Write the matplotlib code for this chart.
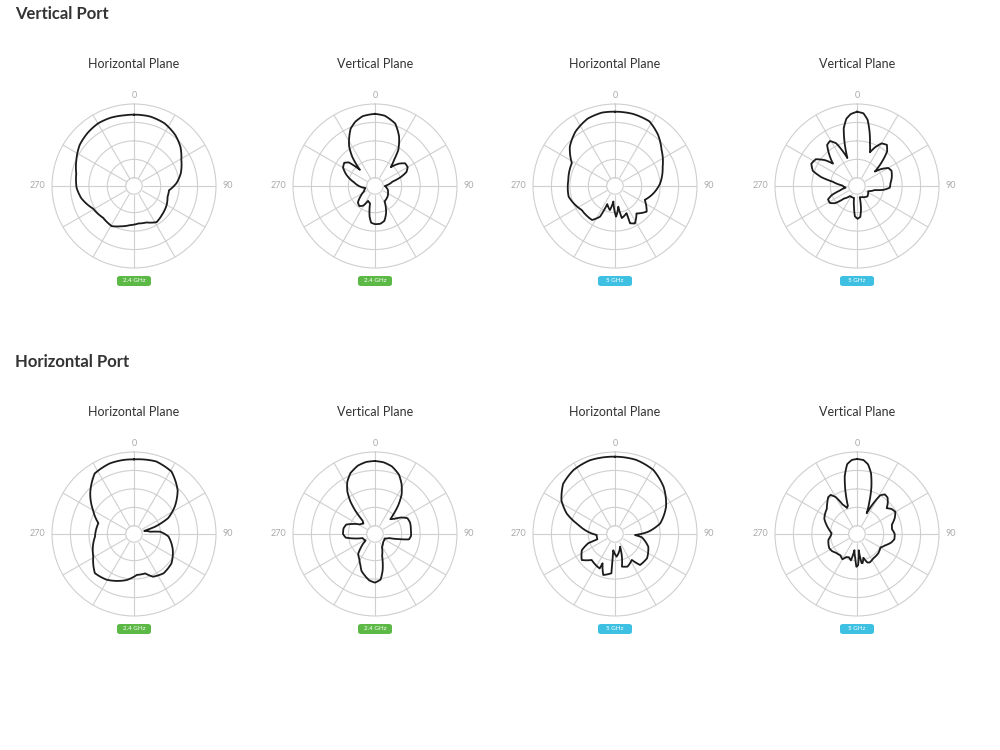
import numpy as np
import matplotlib.pyplot as plt
from matplotlib.patches import FancyBboxPatch

plt.rcParams['font.family'] = ['Lato', 'DejaVu Sans']

# textos
secoes = ['Vertical Port', 'Horizontal Port']
titulos = ['Horizontal Plane', 'Vertical Plane', 'Horizontal Plane', 'Vertical Plane']
bandas = ['2.4 GHz', '2.4 GHz', '5 GHz', '5 GHz']
cores_banda = {'2.4 GHz': '#5cb946', '5 GHz': '#3ec0e3'}
rotulos_angulo = {0: '0', 90: '90', 270: '270'}

# Vertical Port - padroes (angulo em graus, raio relativo)
vp_h24_ang = [0, 13, 26, 39, 50, 61, 75, 86, 97, 108, 120, 136, 148, 161, 173, 186, 199, 209, 224, 241, 257, 268, 282, 294, 307, 319, 330, 341, 352]
vp_h24_r = [0.87, 0.87, 0.85, 0.80, 0.74, 0.66, 0.59, 0.52, 0.43, 0.43, 0.46, 0.49, 0.52, 0.47, 0.46, 0.48, 0.52, 0.56, 0.54, 0.57, 0.66, 0.70, 0.72, 0.77, 0.83, 0.86, 0.88, 0.88, 0.87]

vp_v24_ang = [0, 8, 18, 26, 33, 36, 40, 47, 53, 60, 66, 71, 76, 90, 105, 130, 148, 158, 165, 172, 180, 186, 190, 196, 205, 211, 218, 226, 234, 244, 258, 280, 292, 300, 307, 312, 315, 317, 322, 327, 332, 337, 343, 350]
vp_v24_r = [0.88, 0.865, 0.80, 0.67, 0.52, 0.40, 0.30, 0.40, 0.46, 0.46, 0.42, 0.33, 0.22, 0.12, 0.16, 0.20, 0.22, 0.36, 0.44, 0.465, 0.465, 0.45, 0.38, 0.22, 0.20, 0.28, 0.31, 0.29, 0.22, 0.15, 0.12, 0.26, 0.38, 0.45, 0.47, 0.43, 0.33, 0.27, 0.45, 0.58, 0.67, 0.76, 0.82, 0.865]

vp_h5_ang = [0, 14, 28, 40, 52, 68, 87, 101, 115, 129, 142, 152, 158, 157, 168, 171, 178, 186, 192, 203, 206, 214, 234, 257, 277, 298, 311, 324, 338, 350]
vp_h5_r = [0.906, 0.906, 0.893, 0.816, 0.72, 0.627, 0.55, 0.476, 0.40, 0.497, 0.425, 0.517, 0.49, 0.36, 0.40, 0.255, 0.374, 0.19, 0.30, 0.24, 0.416, 0.50, 0.50, 0.58, 0.574, 0.596, 0.73, 0.82, 0.887, 0.909]

vp_v5_ang = [0, 5, 9, 13, 17, 21, 25, 30, 36, 41, 46, 51, 55, 60, 66, 75, 85, 93, 98, 103, 115, 135, 155, 166, 170, 174, 179, 184, 188, 194, 215, 226, 232, 238, 245, 250, 255, 262, 272, 280, 284, 289, 296, 303, 309, 313, 318, 324, 329, 334, 338, 341, 344, 347, 351, 355]
vp_v5_r = [0.906, 0.89, 0.82, 0.68, 0.54, 0.44, 0.52, 0.60, 0.62, 0.56, 0.42, 0.28, 0.36, 0.44, 0.46, 0.44, 0.41, 0.40, 0.33, 0.22, 0.15, 0.18, 0.15, 0.14, 0.28, 0.38, 0.40, 0.37, 0.26, 0.15, 0.15, 0.22, 0.34, 0.39, 0.39, 0.33, 0.22, 0.14, 0.18, 0.30, 0.45, 0.57, 0.62, 0.60, 0.50, 0.40, 0.50, 0.62, 0.64, 0.58, 0.45, 0.36, 0.55, 0.72, 0.83, 0.88]

# Horizontal Port
hp_h24_ang = [0, 17, 31, 45, 56, 65, 71, 73, 82, 85, 94, 112, 128, 143, 156, 164, 176, 189, 211, 225, 241, 266, 287, 300, 313, 327, 341, 352]
hp_h24_r = [0.91, 0.925, 0.888, 0.753, 0.60, 0.46, 0.27, 0.13, 0.20, 0.32, 0.42, 0.51, 0.58, 0.60, 0.57, 0.50, 0.50, 0.568, 0.65, 0.675, 0.568, 0.477, 0.454, 0.576, 0.73, 0.88, 0.91, 0.912]

hp_v24_ang = [0, 7, 14, 22, 28, 34, 39, 43, 46, 52, 58, 64, 72, 84, 93, 99, 102, 106, 115, 135, 152, 162, 168, 173, 180, 187, 194, 200, 205, 212, 220, 226, 235, 252, 258, 263, 270, 280, 288, 294, 302, 312, 317, 320, 323, 327, 332, 338, 346, 353]
hp_v24_r = [0.89, 0.88, 0.85, 0.78, 0.69, 0.58, 0.45, 0.33, 0.26, 0.30, 0.38, 0.44, 0.45, 0.44, 0.44, 0.42, 0.30, 0.18, 0.13, 0.14, 0.18, 0.28, 0.45, 0.56, 0.593, 0.57, 0.52, 0.48, 0.42, 0.36, 0.32, 0.24, 0.14, 0.16, 0.26, 0.36, 0.39, 0.39, 0.37, 0.30, 0.22, 0.19, 0.22, 0.38, 0.50, 0.62, 0.72, 0.80, 0.86, 0.885]

hp_h5_ang = [0, 16, 31, 46, 62, 77, 86, 93, 97, 111, 127, 141, 147, 159, 168, 158, 176, 186, 185, 196, 203, 204, 222, 232, 244, 251, 253, 267, 284, 293, 302, 314, 327, 341, 351]
hp_h5_r = [0.943, 0.94, 0.91, 0.825, 0.705, 0.564, 0.41, 0.244, 0.33, 0.435, 0.49, 0.486, 0.377, 0.426, 0.407, 0.166, 0.277, 0.20, 0.48, 0.52, 0.388, 0.46, 0.426, 0.515, 0.45, 0.345, 0.225, 0.224, 0.46, 0.64, 0.77, 0.88, 0.93, 0.95, 0.946]

hp_v5_ang = [0, 5, 9, 13, 17, 21, 25, 28, 31, 35, 40, 45, 49, 54, 60, 67, 75, 82, 90, 98, 104, 112, 120, 132, 146, 156, 160, 165, 169, 171, 174, 178, 181, 184, 189, 193, 199, 205, 210, 218, 228, 236, 243, 250, 258, 266, 272, 280, 287, 295, 302, 310, 317, 322, 326, 330, 334, 339, 342, 345, 348, 352, 356]
hp_v5_r = [0.915, 0.905, 0.86, 0.76, 0.60, 0.42, 0.28, 0.42, 0.55, 0.59, 0.58, 0.53, 0.48, 0.52, 0.54, 0.50, 0.44, 0.43, 0.46, 0.46, 0.43, 0.37, 0.33, 0.35, 0.357, 0.38, 0.37, 0.30, 0.36, 0.36, 0.20, 0.38, 0.40, 0.30, 0.20, 0.33, 0.30, 0.31, 0.355, 0.33, 0.343, 0.37, 0.38, 0.37, 0.357, 0.32, 0.31, 0.35, 0.39, 0.44, 0.46, 0.48, 0.53, 0.57, 0.575, 0.52, 0.40, 0.34, 0.36, 0.55, 0.72, 0.86, 0.905]

padroes = [
    [(vp_h24_ang, vp_h24_r), (vp_v24_ang, vp_v24_r), (vp_h5_ang, vp_h5_r), (vp_v5_ang, vp_v5_r)],
    [(hp_h24_ang, hp_h24_r), (hp_v24_ang, hp_v24_r), (hp_h5_ang, hp_h5_r), (hp_v5_ang, hp_v5_r)],
]

W, H = 1000, 750
R = 82
cols_x = [134, 375, 615, 857]
linhas_y = [186, 534]
aneis = [0.1, 0.325, 0.55, 0.775]
cor_grelha = '#cfcfcf'


def desenhar_painel(fig, cx, cy, ang, r, titulo, banda):
    ax = fig.add_axes([(cx - R) / W, 1 - (cy + R) / H, 2 * R / W, 2 * R / H], projection='polar')
    ax.set_theta_zero_location('N')
    ax.set_theta_direction(-1)
    ax.set_ylim(0, 1)
    ax.set_rgrids(aneis, labels=[''] * len(aneis))
    ax.set_thetagrids(range(0, 360, 30), labels=[''] * 12)
    ax.grid(True, color=cor_grelha, lw=0.8)
    ax.spines['polar'].set_color(cor_grelha)
    ax.spines['polar'].set_linewidth(0.8)
    ax.set_facecolor('white')

    # circulo central
    t = np.linspace(0, 2 * np.pi, 200)
    ax.fill_between(t, 0, aneis[0], color='white', zorder=2.5)
    ax.plot(t, np.full_like(t, aneis[0]), color=cor_grelha, lw=0.8, zorder=2.6)

    th = np.radians(list(ang) + [ang[0] + 360])
    rr = list(r) + [r[0]]
    linha, = ax.plot(th, rr, color='#1c1c1c', lw=1.3, zorder=3, solid_joinstyle='round')
    # segmentos desenhados como arcos no espaco polar
    linha.get_path()._interpolation_steps = 40

    for a, txt in rotulos_angulo.items():
        if a == 0:
            ax.text(np.radians(a), 1.10, txt, ha='center', va='center', fontsize=6.5, color='#aaaaaa')
        elif a == 90:
            ax.text(np.radians(a), 1.085, txt, ha='left', va='center', fontsize=6.5, color='#aaaaaa')
        else:
            ax.text(np.radians(a), 1.085, txt, ha='right', va='center', fontsize=6.5, color='#aaaaaa')

    fig.text(cx / W, 1 - (cy - 122) / H, titulo, ha='center', va='center', fontsize=9, color='#333333')

    # etiqueta da banda
    bw, bh = 34, 10
    by = cy + 95
    caixa = FancyBboxPatch(((cx - bw / 2) / W, 1 - (by + bh / 2) / H), bw / W, bh / H,
                           boxstyle='round,pad=0,rounding_size=0.003', transform=fig.transFigure,
                           fc=cores_banda[banda], ec='none')
    fig.patches.append(caixa)
    fig.text(cx / W, 1 - by / H, banda, ha='center', va='center', fontsize=4.5, color='white')


fig = plt.figure(figsize=(10, 7.5), dpi=100)
fig.patch.set_facecolor('white')

for i, secao in enumerate(secoes):
    fig.text(15 / W, 1 - (linhas_y[i] - 172) / H, secao, ha='left', va='center',
             fontsize=12, fontweight='bold', color='#333333')
    for j in range(4):
        ang, r = padroes[i][j]
        desenhar_painel(fig, cols_x[j], linhas_y[i], ang, r, titulos[j], bandas[j])

plt.savefig('out.png', dpi=100)
